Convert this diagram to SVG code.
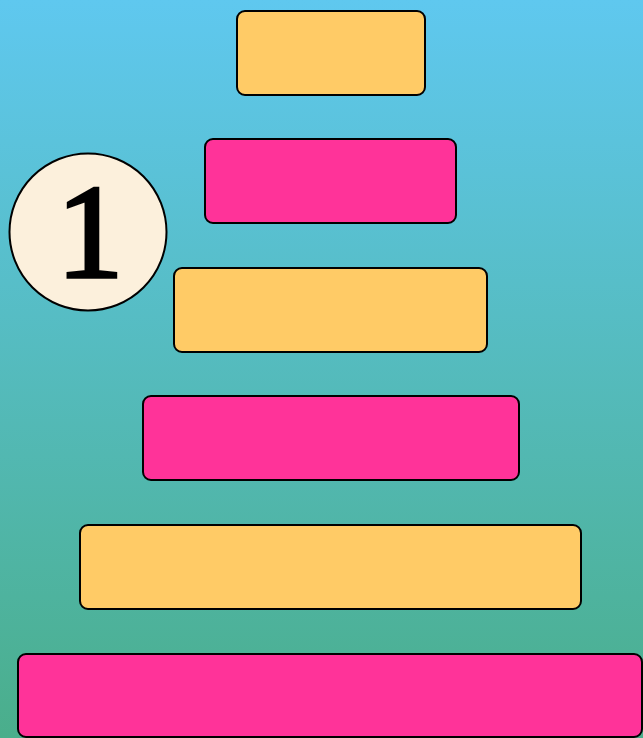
<svg xmlns="http://www.w3.org/2000/svg" width="643" height="738" viewBox="0 0 643 738">
<defs>
<linearGradient id="bg" x1="0" y1="0" x2="0" y2="1">
<stop offset="0" stop-color="#5FC8EF"/>
<stop offset="1" stop-color="#4AAE8B"/>
</linearGradient>
<style>
.bar{stroke:#000;stroke-width:2}
.o{fill:#FFCB66}
.p{fill:#FF3399}
.num{font-family:"Liberation Serif",serif;font-size:134px;fill:#000;stroke:#000;stroke-width:3.5;stroke-linejoin:miter}
</style>
</defs>
<rect x="0" y="0" width="643" height="738" fill="url(#bg)"/>
<g id="bar1"><rect class="bar o" x="237" y="11" width="188" height="84" rx="8"/></g>
<g id="bar2"><rect class="bar p" x="205" y="139" width="251" height="84" rx="8"/></g>
<g id="bar3"><rect class="bar o" x="174" y="268" width="313" height="84" rx="8"/></g>
<g id="bar4"><rect class="bar p" x="143" y="396" width="376" height="84" rx="8"/></g>
<g id="bar5"><rect class="bar o" x="80" y="525" width="501" height="84" rx="8"/></g>
<g id="bar6"><rect class="bar p" x="18" y="654" width="624" height="83" rx="8"/></g>
<g id="badge">
<circle cx="88" cy="232" r="78.5" fill="#FCF0DC" stroke="#000" stroke-width="2"/>
<text class="num" x="90" y="277" text-anchor="middle">1</text>
</g>
<g id="connectors"/>
</svg>
